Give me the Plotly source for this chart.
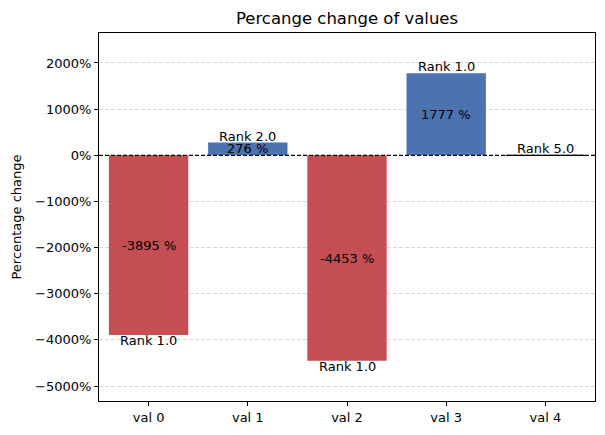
import plotly.graph_objects as go

categories = ["val 0", "val 1", "val 2", "val 3", "val 4"]
values = [-3895, 276, -4453, 1777, 0]
ranks = [1.0, 2.0, 1.0, 1.0, 5.0]
pct_labels = ["-3895 %", "276 %", "-4453 %", "1777 %", ""]
tick_vals = [2000, 1000, 0, -1000, -2000, -3000, -4000, -5000]
tick_text = [("\u2212" if v < 0 else "") + f"{abs(v)}%" for v in tick_vals]

RED = "#C44E52"
BLUE = "#4C72B0"
colors = [RED if v < 0 else (BLUE if v > 0 else "black") for v in values]

fig = go.Figure()
fig.add_trace(go.Bar(
    x=categories, y=values, width=0.8,
    marker=dict(color=colors, line=dict(color=["rgba(0,0,0,0)" if v != 0 else "black" for v in values], width=1.2)),
    hoverinfo="skip",
))

font = dict(family="DejaVu Sans", size=13, color="black")
ann = []
for c, v, r, p in zip(categories, values, ranks, pct_labels):
    ann.append(dict(x=c, y=v, text=f"Rank {r:.1f}", showarrow=False, font=font,
                    yanchor="top" if v < 0 else "bottom", yshift=3 if v < 0 else -2, borderpad=0))
    if p:
        ann.append(dict(x=c, y=v / 2, text=p, showarrow=False, font=font, yanchor="middle"))

fig.update_layout(
    width=605, height=435,
    margin=dict(l=99, r=10, t=33, b=34),
    paper_bgcolor="white", plot_bgcolor="white",
    showlegend=False,
    title=dict(text="Percange change of values", x=0.5, xref="paper", xanchor="center",
               y=1, yref="container", yanchor="top", pad=dict(t=12),
               font=dict(family="DejaVu Sans", size=16.5, color="black")),
    annotations=ann,
    font=dict(family="DejaVu Sans", size=13, color="black"),
    shapes=[dict(type="line", xref="paper", x0=0, x1=1, yref="y", y0=0, y1=0,
                 line=dict(color="black", width=1.2, dash="4px,2px"), layer="above")],
)
fig.update_xaxes(range=[-0.5, 4.5], showline=True, mirror=True, linecolor="black", linewidth=1,
                 ticks="outside", ticklen=4, tickcolor="black", showgrid=False,
                 tickfont=dict(family="DejaVu Sans", size=13))
fig.update_yaxes(range=[-5325, 2650], tickvals=tick_vals, ticktext=tick_text,
                 showline=True, mirror=True, linecolor="black", linewidth=1,
                 ticks="outside", ticklen=4, tickcolor="black",
                 showgrid=True, gridcolor="#d9d9d9", griddash="4px,2px", gridwidth=0.8,
                 zeroline=False,
                 title=dict(text="Percentage change", font=dict(family="DejaVu Sans", size=13), standoff=10),
                 tickfont=dict(family="DejaVu Sans", size=13))
fig.write_html("out.html")
